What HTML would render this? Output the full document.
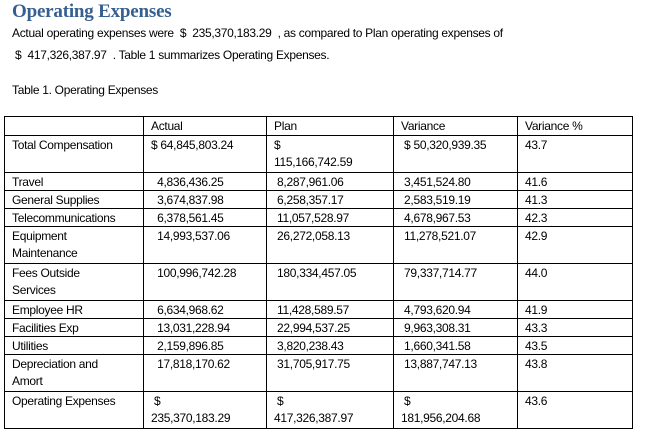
<!DOCTYPE html>
<html><head><meta charset="utf-8"><style>
body{margin:0;width:645px;height:434px;background:#fff;font-family:"Liberation Sans",sans-serif;color:#000;position:relative;overflow:hidden}
.t{position:absolute;white-space:nowrap;font-size:12px}
h1{position:absolute;left:12px;top:1px;margin:0;font-family:"Liberation Serif",serif;font-size:19px;font-weight:bold;color:#365f91;letter-spacing:-0.2px}
table{position:absolute;left:4px;top:116px;border-collapse:collapse;font-size:12px;letter-spacing:-0.3px;table-layout:fixed}
td{border:1px solid #000;vertical-align:top;padding:1px 7px 0 7px;line-height:16px;overflow:hidden;white-space:nowrap}
tr.s td{height:16px}
tr.d td{height:35px;line-height:17px}
tr.h td{height:17px}
</style></head><body>
<h1>Operating Expenses</h1>
<div class="t" style="left:12px;top:26px;letter-spacing:-0.3px">Actual operating expenses were &nbsp;$ &nbsp;235,370,183.29 &nbsp;, as compared to Plan operating expenses of</div>
<div class="t" style="left:15px;top:48px;letter-spacing:-0.3px">$ &nbsp;417,326,387.97 &nbsp;. Table 1 summarizes Operating Expenses.</div>
<div class="t" style="left:12px;top:83px;letter-spacing:-0.3px">Table 1. Operating Expenses</div>
<table>
<colgroup><col style="width:139px"><col style="width:123px"><col style="width:127px"><col style="width:124px"><col style="width:115px"></colgroup>
<tr class="h"><td></td><td>Actual</td><td>Plan</td><td>Variance</td><td>Variance %</td></tr>
<tr class="d"><td>Total Compensation</td><td>$ 64,845,803.24</td><td>$<br>115,166,742.59</td><td>&nbsp;$ 50,320,939.35</td><td>43.7</td></tr>
<tr class="s"><td>Travel</td><td>&nbsp;&nbsp;4,836,436.25</td><td>&nbsp;8,287,961.06</td><td>&nbsp;3,451,524.80</td><td>41.6</td></tr>
<tr class="s"><td>General Supplies</td><td>&nbsp;&nbsp;3,674,837.98</td><td>&nbsp;6,258,357.17</td><td>&nbsp;2,583,519.19</td><td>41.3</td></tr>
<tr class="s"><td>Telecommunications</td><td>&nbsp;&nbsp;6,378,561.45</td><td>&nbsp;11,057,528.97</td><td>&nbsp;4,678,967.53</td><td>42.3</td></tr>
<tr class="d"><td>Equipment<br>Maintenance</td><td>&nbsp;&nbsp;14,993,537.06</td><td>&nbsp;26,272,058.13</td><td>&nbsp;11,278,521.07</td><td>42.9</td></tr>
<tr class="d"><td>Fees Outside<br>Services</td><td>&nbsp;&nbsp;100,996,742.28</td><td>&nbsp;180,334,457.05</td><td>&nbsp;79,337,714.77</td><td>44.0</td></tr>
<tr class="s"><td>Employee HR</td><td>&nbsp;&nbsp;6,634,968.62</td><td>&nbsp;11,428,589.57</td><td>&nbsp;4,793,620.94</td><td>41.9</td></tr>
<tr class="s"><td>Facilities Exp</td><td>&nbsp;&nbsp;13,031,228.94</td><td>&nbsp;22,994,537.25</td><td>&nbsp;9,963,308.31</td><td>43.3</td></tr>
<tr class="s"><td>Utilities</td><td>&nbsp;&nbsp;2,159,896.85</td><td>&nbsp;3,820,238.43</td><td>&nbsp;1,660,341.58</td><td>43.5</td></tr>
<tr class="d"><td>Depreciation and<br>Amort</td><td>&nbsp;&nbsp;17,818,170.62</td><td>&nbsp;31,705,917.75</td><td>&nbsp;13,887,747.13</td><td>43.8</td></tr>
<tr class="d"><td>Operating Expenses</td><td>&nbsp;$<br>235,370,183.29</td><td>&nbsp;$<br>417,326,387.97</td><td>&nbsp;$<br>181,956,204.68</td><td>43.6</td></tr>
</table>
</body></html>
